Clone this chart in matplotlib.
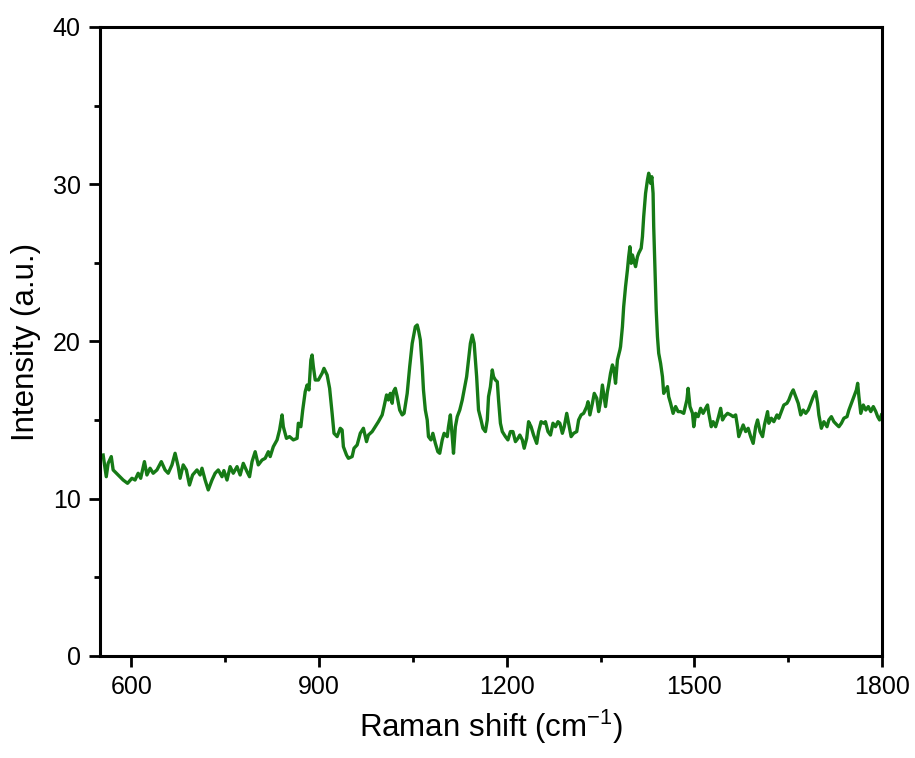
import matplotlib
matplotlib.use('Agg')
import matplotlib.pyplot as plt
from matplotlib.ticker import MultipleLocator

plt.rcParams['font.family'] = ['Liberation Sans', 'DejaVu Sans']
plt.rcParams['mathtext.fontset'] = 'custom'
plt.rcParams['mathtext.rm'] = 'Liberation Sans'

# Raman shift (cm^-1)
shift = [555, 560, 563, 568, 571, 579, 587, 594, 601, 606, 611, 615, 621, 625, 630, 635,
         641, 648, 654, 659, 665, 670, 675, 678, 683, 688, 693, 698, 705, 710, 713, 718,
         723, 729, 734, 739, 745, 748, 753,
         758, 763, 769, 774, 779, 785, 789, 793, 798, 803, 809, 814, 819, 822, 827, 833,
         837, 841, 843, 848, 853, 859, 865, 867, 871, 874, 878, 881, 884, 887, 889, 891,
         894, 899, 905, 908, 913, 917, 921, 924, 929, 934, 937, 939, 944, 947, 953, 956,
         961,
         966, 971, 976, 979, 985, 990, 995, 1001, 1004, 1008, 1011, 1014, 1017, 1019, 1022,
         1025, 1029, 1033, 1036, 1041, 1045, 1049, 1051, 1054, 1057, 1059, 1062, 1065, 1067,
         1070, 1073, 1075, 1079, 1082, 1086, 1090, 1093, 1097, 1100, 1105, 1107, 1110, 1113,
         1115, 1118, 1121, 1125, 1129, 1132, 1136, 1139, 1142, 1145, 1148, 1152, 1155, 1159,
         1162, 1166, 1169, 1171, 1174, 1177, 1179, 1182,
         1185, 1187, 1190, 1193, 1198, 1202, 1206, 1210, 1214, 1218, 1221, 1225, 1228, 1232,
         1235, 1239, 1243, 1248, 1251, 1255, 1259, 1262, 1266, 1270, 1274, 1278, 1282, 1285,
         1289, 1292, 1296, 1299, 1303, 1307, 1312, 1315, 1319, 1323, 1328, 1330, 1333, 1337,
         1340, 1344, 1347, 1350, 1353, 1355, 1358, 1361, 1363, 1366, 1369, 1371, 1374, 1377,
         1381,
         1382, 1385, 1387, 1390, 1393, 1395, 1397, 1399, 1401, 1403, 1406, 1409, 1411, 1415,
         1417, 1419, 1422, 1425, 1427, 1430, 1432, 1434, 1435, 1437, 1439, 1441, 1443, 1446,
         1449, 1451, 1454, 1457, 1459, 1462, 1466, 1470, 1474, 1478, 1483, 1488, 1490, 1493,
         1497, 1499, 1502, 1506, 1510, 1514, 1518, 1521, 1523, 1527, 1530, 1534, 1538, 1542,
         1545, 1548, 1553, 1558, 1562, 1566, 1569, 1571, 1575, 1578, 1582, 1586,
         1590, 1594, 1598, 1601, 1605, 1609, 1612, 1617, 1619, 1623, 1627, 1632, 1635, 1639,
         1643, 1648, 1651, 1655, 1658, 1662, 1666, 1670, 1674, 1678, 1682, 1686, 1690, 1694,
         1697, 1699, 1703, 1707, 1712, 1715, 1719, 1723, 1728, 1731, 1735, 1739, 1744, 1747,
         1751, 1755, 1759, 1761, 1763, 1766, 1770, 1774, 1778, 1782, 1786, 1790, 1793, 1796,
         1799]

intensity = [12.78, 11.40, 12.25, 12.68, 11.83, 11.51, 11.19, 10.98, 11.30, 11.19, 11.62, 11.30,
             12.36, 11.51, 11.94, 11.62, 11.83, 12.36, 11.83, 11.62, 12.15, 12.89, 12.04, 11.30,
             12.15, 11.83, 10.87, 11.51, 11.83, 11.51, 11.94, 11.19, 10.56, 11.19, 11.62, 11.83,
             11.40, 11.79, 11.19,
             12.04, 11.62, 12.04, 11.51, 12.25, 11.72, 11.40, 12.36, 12.99, 12.15, 12.46, 12.57,
             12.99, 12.68, 13.31, 13.74, 14.37, 15.33, 14.58, 13.84, 13.95, 13.74, 13.84, 14.80,
             14.58, 15.64, 16.81, 17.23, 16.92, 18.82, 19.14, 18.40, 17.55, 17.55, 17.98, 18.29,
             17.87, 17.02, 15.43, 14.16, 13.95, 14.48, 14.37, 13.31, 12.78, 12.57, 12.68, 13.21,
             13.42,
             14.16, 14.48, 13.63, 14.05, 14.27, 14.58, 14.90, 15.33, 15.86, 16.60, 16.28, 16.70,
             16.07, 16.81, 17.02, 16.49, 15.64, 15.33, 15.43, 16.70, 18.40, 19.88, 20.31, 20.94,
             21.05, 20.73, 20.10, 18.40, 16.92, 15.64, 15.01, 13.95, 13.74, 14.16, 13.52, 12.99,
             12.89, 13.74, 14.16, 13.95, 14.58, 15.33, 13.95, 12.89, 14.58, 15.22, 15.64, 16.28,
             16.92, 17.76, 18.82, 19.88, 20.41, 19.88, 17.76, 15.64, 15.01, 14.48, 14.27, 15.01,
             16.49, 17.12, 18.19, 17.76, 17.55,
             17.44, 16.28, 14.80, 14.27, 13.95, 13.74, 14.27, 14.27, 13.63, 13.84, 14.05, 13.74,
             13.21, 13.84, 14.90, 14.58, 14.05, 13.52, 14.27, 14.90, 14.80, 14.90, 14.27, 14.05,
             14.80, 14.58, 14.90, 14.80, 14.16, 14.58, 15.43, 14.80, 13.95, 14.16, 14.27, 15.01,
             15.33, 15.43, 15.86, 16.17, 15.33, 16.07, 16.70, 16.39, 15.54, 16.17, 17.23, 16.70,
             15.86, 16.81, 17.23, 17.98, 18.51, 18.29, 17.34, 18.82, 19.46,
             19.67, 20.94, 22.21, 23.49, 24.55, 25.39, 26.03, 24.97, 25.50, 25.18, 24.76, 25.39,
             25.61, 25.93, 26.67, 27.94, 29.42, 30.27, 30.70, 30.06, 30.48, 29.42, 27.30, 24.55,
             22.00, 20.31, 19.25, 18.61, 17.76, 16.70, 16.92, 17.13, 16.49, 16.07, 15.43, 15.86,
             15.54, 15.54, 15.43, 16.28, 17.02, 15.86, 15.43, 14.58, 15.43, 15.22, 15.75, 15.43,
             15.75, 15.96, 15.43, 14.58, 14.90, 14.58, 15.12, 15.75, 15.01, 15.22, 15.43, 15.33,
             15.22, 15.33, 14.58, 13.95, 14.37, 14.69, 14.27, 14.48,
             13.95, 13.52, 14.58, 15.01, 14.27, 13.95, 14.69, 15.54, 14.80, 15.12, 14.90, 15.33,
             15.12, 15.54, 15.96, 16.07, 16.28, 16.70, 16.92, 16.49, 16.07, 15.33, 15.64, 15.43,
             15.64, 16.07, 16.49, 16.81, 16.07, 15.33, 14.48, 14.90, 14.58, 15.01, 15.22, 14.90,
             14.69, 14.58, 14.80, 15.12, 15.22, 15.64, 16.07, 16.49, 16.92, 17.34, 16.49, 15.43,
             15.96, 15.64, 15.86, 15.54, 15.86, 15.54, 15.22, 15.01, 15.33]

x_ticks = [600, 900, 1200, 1500, 1800]
y_ticks = [0, 10, 20, 30, 40]

fig = plt.figure(figsize=(9.15, 7.58), dpi=100)
ax = fig.add_axes([0.1093, 0.1346, 0.8547, 0.8298])

ax.plot(shift, intensity, color='#167a16', linewidth=2.4)

ax.set_xlim(550, 1800)
ax.set_ylim(0, 40)
ax.set_xticks(x_ticks)
ax.set_yticks(y_ticks)
ax.xaxis.set_minor_locator(MultipleLocator(150))
ax.yaxis.set_minor_locator(MultipleLocator(5))

ax.tick_params(which='major', direction='out', length=8, width=2, labelsize=18, pad=6)
ax.tick_params(which='minor', direction='out', length=4.5, width=2)
for s in ax.spines.values():
    s.set_linewidth(2.2)

ax.set_xlabel(r'Raman shift (cm$^{\mathregular{-1}}$)', fontsize=22.5, labelpad=6)
ax.set_ylabel('Intensity (a.u.)', fontsize=22.5, labelpad=8)

fig.savefig('out.png', dpi=100)
